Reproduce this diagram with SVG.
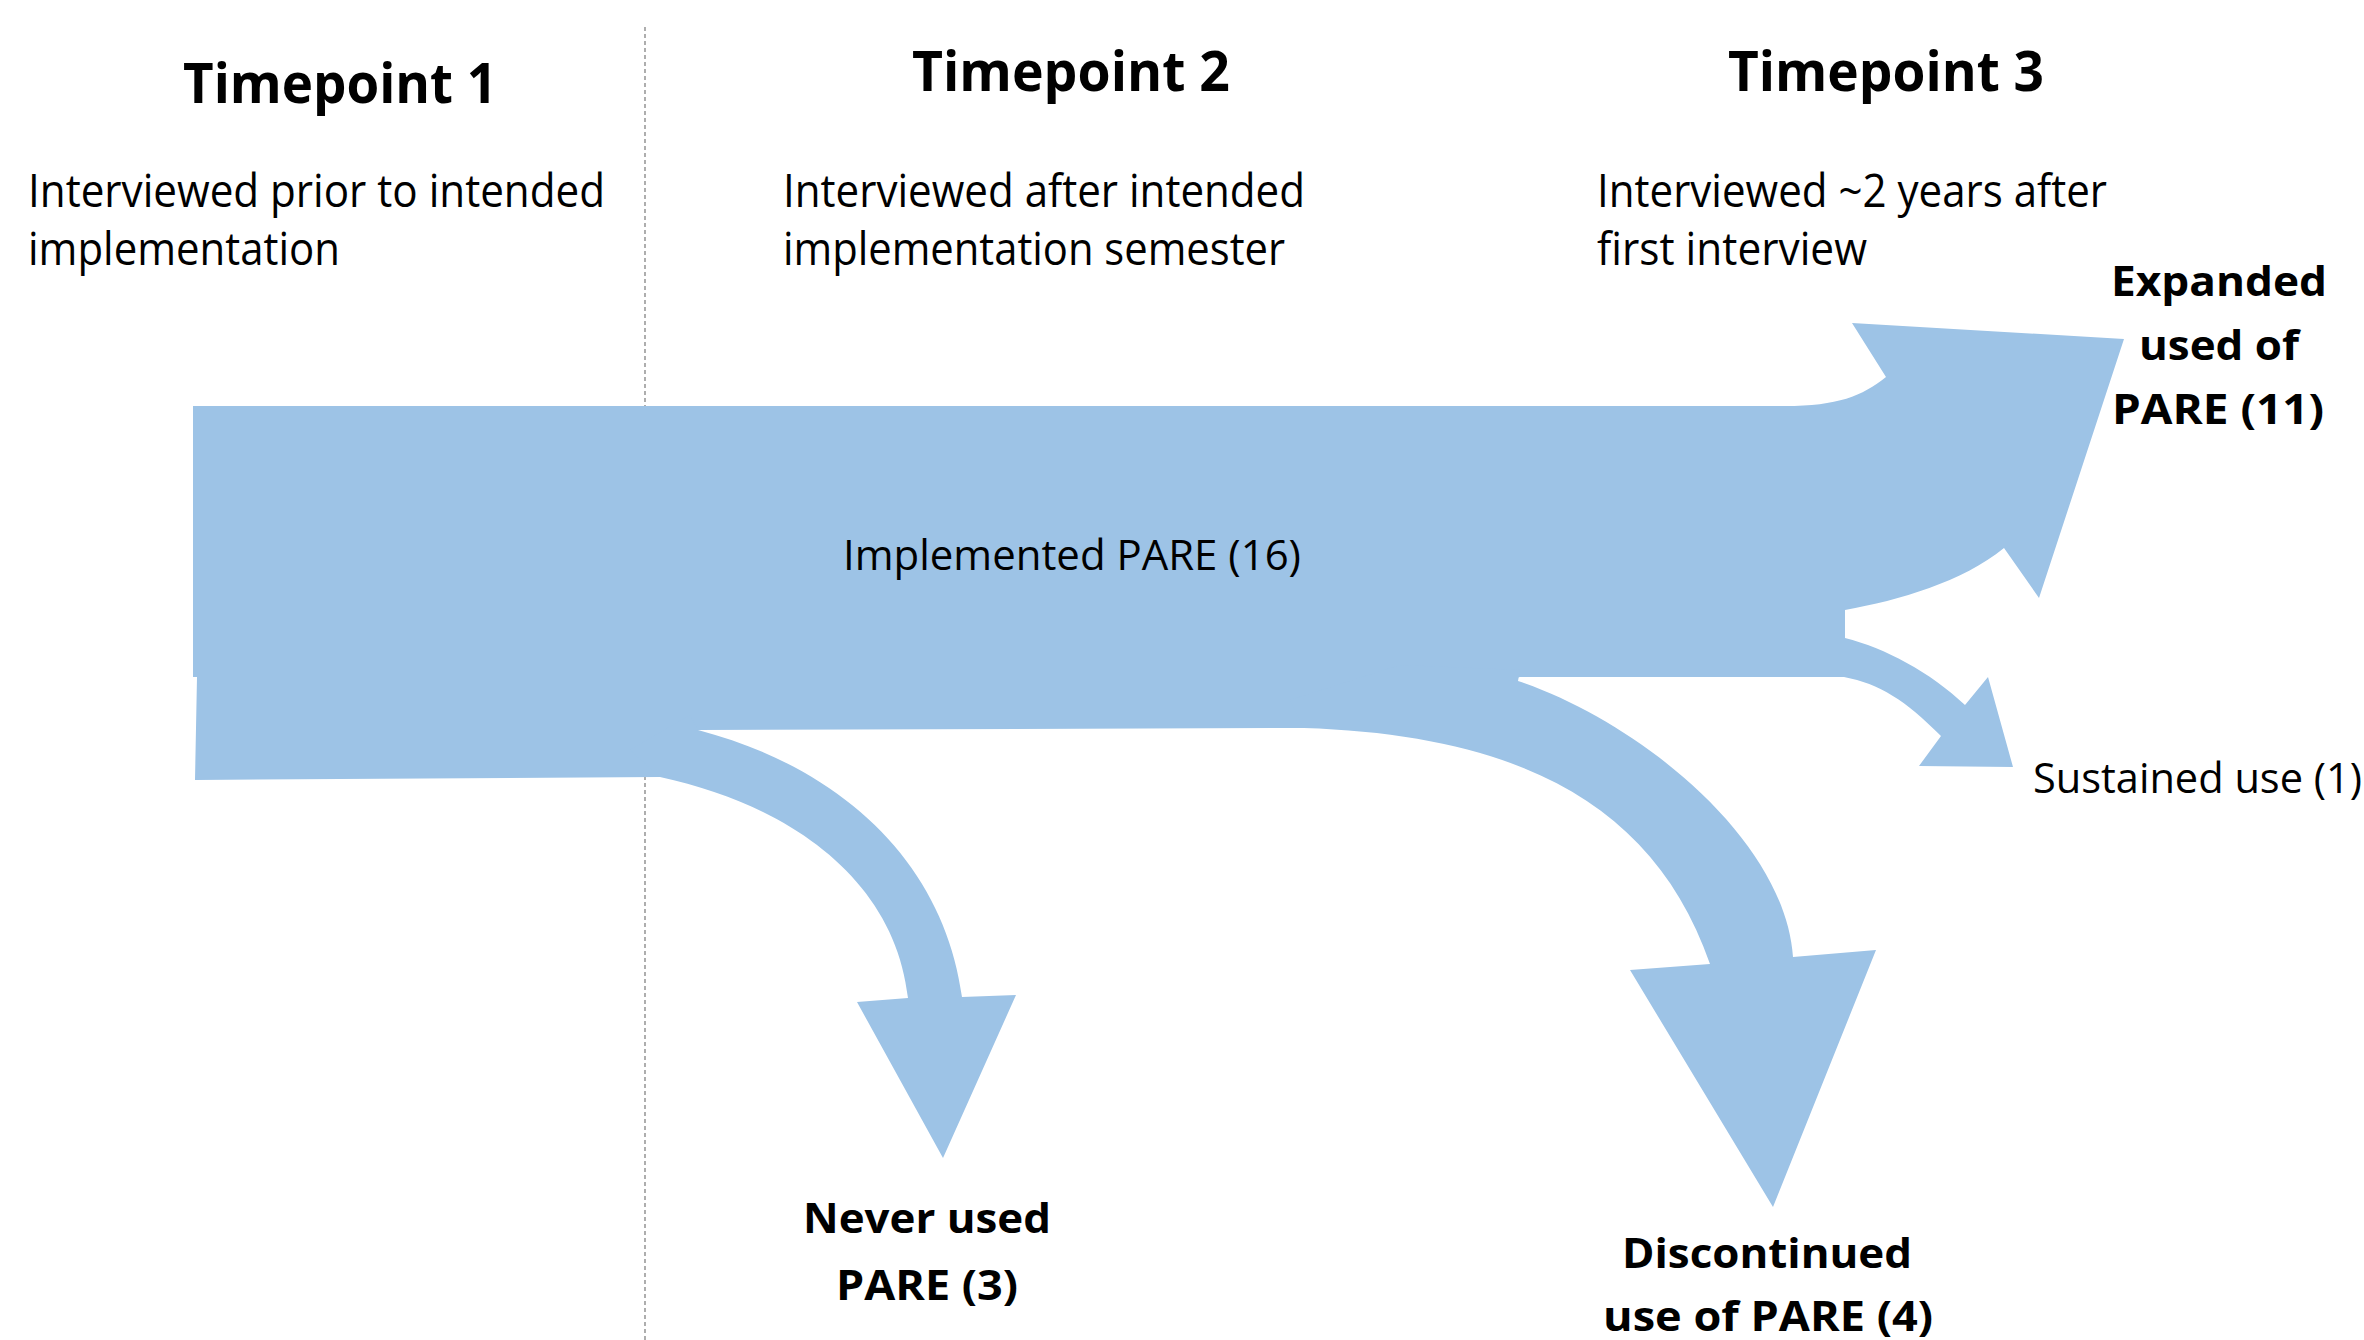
<svg xmlns="http://www.w3.org/2000/svg" width="2364" height="1340" viewBox="0 0 2364 1340">
  <style>
    .flow { fill: #9DC3E6; stroke: none; }
    .title { font-family: "Open Sans", "Noto Sans", "Liberation Sans", sans-serif; font-weight: 700; font-size: 56px; fill: #000; }
    .desc { font-family: "Open Sans", "Noto Sans", "Liberation Sans", sans-serif; font-weight: 400; font-size: 45px; fill: #000; }
    .label { font-family: "Open Sans", "Noto Sans", "Liberation Sans", sans-serif; font-weight: 400; font-size: 42px; fill: #000; }
    .outcome { font-family: "Open Sans", "Noto Sans", "Liberation Sans", sans-serif; font-weight: 700; font-size: 42px; fill: #000; text-anchor: middle; }
    .divider { stroke: #8c8c8c; stroke-width: 1.4; stroke-dasharray: 4 3; fill: none; }
  </style>

  <rect width="2364" height="1340" fill="#ffffff"/>

  <!-- divider between timepoint 1 and the rest -->
  <line class="divider" x1="645" y1="27" x2="645" y2="1340"/>

  <!-- flow arrows -->
  <g id="connectors">
    <!-- main band: implemented, splitting into expanded (up-right) and sustained (right) -->
    <path id="flow-main" class="flow" d="M193,406 H1785 C1838,406 1862,396 1886,377 L1852,323 L2124,339 L2039,598 L2004,548 C1962,582 1900,600 1845,610 V638 C1885,648 1930,672 1965,705 L1988,677 L2013,767 L1919,766 L1941,736 C1905,700 1880,684 1844,677 H1520 L1304,728 L698,730 L660,777 L195,780 L197,677 H193 Z"/>
    <!-- branch: never used (its root tucks under the main band) -->
    <path id="flow-never" class="flow" d="M698,730 C850,770 945,870 962,997 L1016,995 L943,1158 L857,1002 L908,998 C895,880 790,805 660,777 L630,750 L690,715 Z"/>
    <!-- branch: discontinued (its root tucks under the main band) -->
    <path id="flow-discontinued" class="flow" d="M1304,728 C1520,735 1655,805 1710,964 L1630,970 L1773,1207 L1876,950 L1793,957 C1785,840 1640,722 1518,681 L1520,670 L1400,665 L1290,700 Z"/>
  </g>

  <!-- timepoint headers -->
  <g id="timepoint-1">
    <text class="title" x="183" y="103" textLength="314" lengthAdjust="spacingAndGlyphs">Timepoint 1</text>
    <text class="desc" x="28" y="207" textLength="577" lengthAdjust="spacingAndGlyphs">Interviewed prior to intended</text>
    <text class="desc" x="28" y="265" textLength="312" lengthAdjust="spacingAndGlyphs">implementation</text>
  </g>
  <g id="timepoint-2">
    <text class="title" x="912" y="91" textLength="318" lengthAdjust="spacingAndGlyphs">Timepoint 2</text>
    <text class="desc" x="783" y="207" textLength="522" lengthAdjust="spacingAndGlyphs">Interviewed after intended</text>
    <text class="desc" x="783" y="265" textLength="502" lengthAdjust="spacingAndGlyphs">implementation semester</text>
  </g>
  <g id="timepoint-3">
    <text class="title" x="1728" y="91" textLength="316" lengthAdjust="spacingAndGlyphs">Timepoint 3</text>
    <text class="desc" x="1597" y="207" textLength="510" lengthAdjust="spacingAndGlyphs">Interviewed ~2 years after</text>
    <text class="desc" x="1597" y="265" textLength="270" lengthAdjust="spacingAndGlyphs">first interview</text>
  </g>

  <!-- flow labels -->
  <g id="node-implemented">
    <text class="label" x="843" y="570" textLength="458" lengthAdjust="spacingAndGlyphs">Implemented PARE (16)</text>
  </g>
  <g id="node-expanded">
    <text class="outcome" x="2219" y="296" textLength="216" lengthAdjust="spacingAndGlyphs">Expanded</text>
    <text class="outcome" x="2219" y="360" textLength="160" lengthAdjust="spacingAndGlyphs">used of</text>
    <text class="outcome" x="2218" y="424" textLength="212" lengthAdjust="spacingAndGlyphs">PARE (11)</text>
  </g>
  <g id="node-sustained">
    <text class="label" x="2033" y="793" textLength="329" lengthAdjust="spacingAndGlyphs">Sustained use (1)</text>
  </g>
  <g id="node-never">
    <text class="outcome" x="927" y="1233" textLength="248" lengthAdjust="spacingAndGlyphs">Never used</text>
    <text class="outcome" x="927" y="1300" textLength="182" lengthAdjust="spacingAndGlyphs">PARE (3)</text>
  </g>
  <g id="node-discontinued">
    <text class="outcome" x="1767" y="1268" textLength="290" lengthAdjust="spacingAndGlyphs">Discontinued</text>
    <text class="outcome" x="1768" y="1331" textLength="330" lengthAdjust="spacingAndGlyphs">use of PARE (4)</text>
  </g>
</svg>
